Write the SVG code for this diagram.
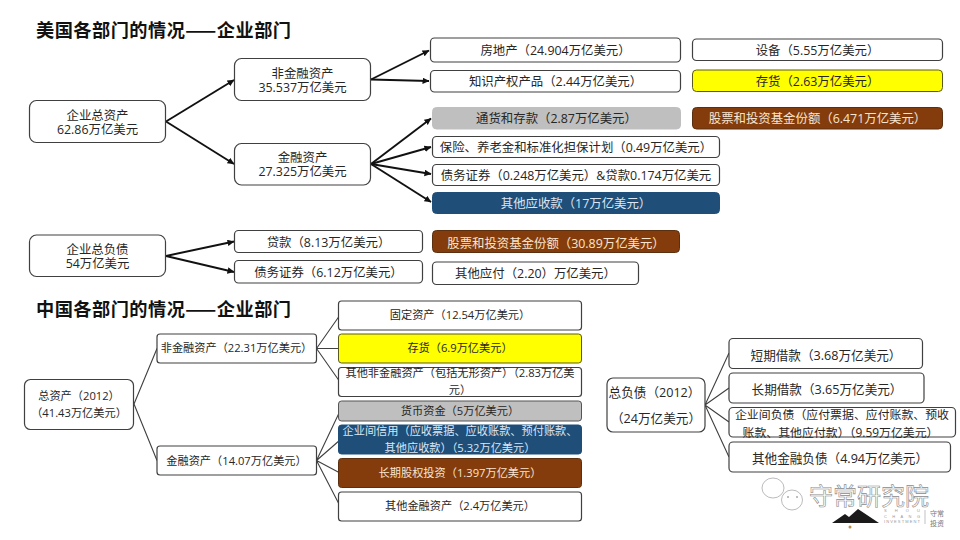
<svg xmlns="http://www.w3.org/2000/svg" width="960" height="540" viewBox="0 0 960 540">
<style>
text{font-family:"Open Sans","Noto Sans CJK SC",sans-serif;font-size:12.400px;fill:#262626;text-anchor:middle}
.t{font-family:"Noto Sans CJK SC",sans-serif;font-size:18.200px;font-weight:700;fill:#111;text-anchor:start}
.s{font-size:11.200px}
.m{font-size:12.600px}
.i{font-size:11.900px}
.b{fill:#fff;stroke:#404040;stroke-width:1.2}
.y{fill:#ff0;stroke:#5a5a20;stroke-width:1}
.g{fill:#bfbfbf;stroke:#bfbfbf}
.n{fill:#1f4e79;stroke:#1f4e79}
.r{fill:#843c0c;stroke:#5a3010}
.lb{fill:#dce6f2}
.lr{fill:#f8e5d0}
.a{fill:none;stroke:#111;stroke-width:1.900;marker-end:url(#ah)}
.l{fill:none;stroke:#404040;stroke-width:1.100}
.wm{font-family:"Noto Sans CJK SC",sans-serif;font-size:24px;fill:#fff;stroke:#8a8a8a;stroke-width:.6;text-anchor:start}
.wt{font-family:"Liberation Sans",sans-serif;font-size:4px;fill:#999;text-anchor:start}
.wc{font-family:"Noto Sans CJK SC",sans-serif;font-size:7px;fill:#777;text-anchor:start}
.wb{fill:#fff;stroke:#aaa;stroke-width:.8}
</style>
<defs>
<marker id="ah" markerWidth="7" markerHeight="7" refX="6.500" refY="3.250" orient="auto" markerUnits="userSpaceOnUse"><path d="M0 0L7 3.250L0 6.500Z" fill="#111"/></marker>
</defs>
<text class="t" x="36" y="37" textLength="255" lengthAdjust="spacing">美国各部门的情况——企业部门</text>
<text class="t" x="36" y="316" textLength="255" lengthAdjust="spacing">中国各部门的情况——企业部门</text>
<g id="connectors">
<path class="a" d="M166 121.500L234 80"/>
<path class="a" d="M166 121.500L234 164"/>
<path class="a" d="M371 79.500L429 50.500"/>
<path class="a" d="M371 79.500L429 81"/>
<path class="a" d="M371 164L431 118.500"/>
<path class="a" d="M371 164L431 147"/>
<path class="a" d="M371 164L431 174"/>
<path class="a" d="M371 164L431 202"/>
<path class="a" d="M166 256L234 241.500"/>
<path class="a" d="M166 256L234 272"/>
<path class="l" d="M134 404L157 348.500M134 404L157 460.500"/>
<path class="l" d="M316.500 348.500L340 315M316.500 348.500H340M316.500 348.500L340 382"/>
<path class="l" d="M316.500 460.500L340 411M316.500 460.500L340 440M316.500 460.500L340 473M316.500 460.500L340 506"/>
<path class="l" d="M705 405L729 353M705 405L729 388M705 405L729 422M705 405L729 457"/>
</g>
<g id="us-total-assets"><rect class="b" x="29.500" y="100.500" width="136" height="42" rx="7"/><text x="97.500" y="120">企业总资产</text><text x="97.500" y="134">62.86万亿美元</text></g>
<g id="us-nonfin"><rect class="b" x="234.500" y="58.500" width="136" height="42" rx="7"/><text x="302.500" y="78">非金融资产</text><text x="302.500" y="92">35.537万亿美元</text></g>
<g id="us-fin"><rect class="b" x="234.500" y="143.500" width="136" height="41.500" rx="7"/><text x="302.500" y="162">金融资产</text><text x="302.500" y="176">27.325万亿美元</text></g>
<g id="us-realestate"><rect class="b" x="430.500" y="38" width="250" height="24" rx="4"/><text x="555.500" y="55">房地产（24.904万亿美元）</text></g>
<g id="us-equip"><rect class="b" x="692.500" y="39" width="250" height="21.500" rx="4"/><text x="817.500" y="55">设备（5.55万亿美元）</text></g>
<g id="us-ip"><rect class="b" x="430.500" y="70.500" width="250" height="21.500" rx="4"/><text x="555.500" y="86">知识产权产品（2.44万亿美元）</text></g>
<g id="us-inventory"><rect class="y" x="692.500" y="70" width="250" height="21.500" rx="4"/><text x="817.500" y="86">存货（2.63万亿美元）</text></g>
<g id="us-cash"><rect class="g" x="432.500" y="107.500" width="248" height="21.500" rx="4"/><text x="556.500" y="123">通货和存款（2.87万亿美元）</text></g>
<g id="us-equity"><rect class="r" x="692.500" y="107.500" width="250" height="21.500" rx="4"/><text class="lr" x="817.500" y="123">股票和投资基金份额（6.471万亿美元）</text></g>
<g id="us-insurance"><rect class="b" x="432.500" y="136.500" width="287" height="21" rx="4"/><text x="576" y="152">保险、养老金和标准化担保计划（0.49万亿美元）</text></g>
<g id="us-debt"><rect class="b" x="432.500" y="164.500" width="287" height="21" rx="4"/><text x="576" y="180">债务证券（0.248万亿美元）&amp;贷款0.174万亿美元</text></g>
<g id="us-other-rec"><rect class="n" x="432.500" y="192.500" width="287" height="21" rx="4"/><text class="lb" x="576" y="208">其他应收款（17万亿美元）</text></g>
<g id="us-liab"><rect class="b" x="29.500" y="235" width="136" height="41.500" rx="7"/><text x="97.500" y="254">企业总负债</text><text x="97.500" y="268">54万亿美元</text></g>
<g id="us-loans"><rect class="b" x="234.500" y="230.500" width="188" height="22" rx="4"/><text x="328.500" y="247">贷款（8.13万亿美元）</text></g>
<g id="us-debt2"><rect class="b" x="234.500" y="260.500" width="188" height="22.500" rx="4"/><text x="328.500" y="277">债务证券（6.12万亿美元）</text></g>
<g id="us-equity2"><rect class="r" x="432.500" y="230.500" width="247" height="22" rx="4"/><text class="lr" x="556" y="248">股票和投资基金份额（30.89万亿美元）</text></g>
<g id="us-other-pay"><rect class="b" x="432.500" y="262" width="206" height="22.500" rx="4"/><text x="535.500" y="278">其他应付（2.20）万亿美元）</text></g>
<g id="cn-total"><rect class="b" x="24.500" y="379.500" width="109" height="50" rx="6"/><text class="s" x="79" y="400">总资产（2012）</text><text class="s" x="79" y="417">（41.43万亿美元）</text></g>
<g id="cn-nonfin"><rect class="b" x="157" y="334" width="159.500" height="29" rx="3"/><text class="s" x="236.500" y="352">非金融资产（22.31万亿美元）</text></g>
<g id="cn-fin"><rect class="b" x="157" y="446" width="159.500" height="29" rx="3"/><text class="s" x="236.500" y="465">金融资产（14.07万亿美元）</text></g>
<g id="cn-fixed"><rect class="b" x="338.500" y="301" width="243" height="29" rx="3"/><text class="s" x="460" y="319">固定资产（12.54万亿美元）</text></g>
<g id="cn-inventory"><rect class="y" x="338.500" y="334" width="243" height="29" rx="3"/><text class="s" x="460" y="352">存货（6.9万亿美元）</text></g>
<g id="cn-othernon"><rect class="b" x="338.500" y="367.500" width="243" height="29" rx="3"/><text class="s" x="460" y="377">其他非金融资产（包括无形资产）（2.83万亿美</text><text class="s" x="460" y="394">元）</text></g>
<g id="cn-cash"><rect class="g" style="stroke:#555" x="338.500" y="401" width="243" height="20" rx="3"/><text class="s" x="460" y="415">货币资金（5万亿美元）</text></g>
<g id="cn-credit"><rect class="n" x="338.500" y="425" width="243" height="29" rx="3"/><text class="s lb" x="460" y="435">企业间信用（应收票据、应收账款、预付账款、</text><text class="s lb" x="460" y="452">其他应收款）（5.32万亿美元）</text></g>
<g id="cn-equity"><rect class="r" x="338.500" y="458.500" width="243" height="29" rx="3"/><text class="s lr" x="460" y="477">长期股权投资（1.397万亿美元）</text></g>
<g id="cn-otherfin"><rect class="b" x="338.500" y="492" width="243" height="29" rx="3"/><text class="s" x="460" y="510">其他金融资产（2.4万亿美元）</text></g>
<g id="cn-liab"><rect class="b" x="607" y="378" width="98" height="54" rx="6"/><text class="m" x="654.500" y="397">总负债（2012）</text><text class="m" x="656" y="423">（24万亿美元）</text></g>
<g id="cn-short"><rect class="b" x="729" y="338.500" width="193.500" height="30" rx="4"/><text class="m" x="826" y="360">短期借款（3.68万亿美元）</text></g>
<g id="cn-long"><rect class="b" x="729" y="373" width="195" height="30" rx="4"/><text class="m" x="827" y="394">长期借款（3.65万亿美元）</text></g>
<g id="cn-inter"><rect class="b" x="729" y="407.500" width="226.500" height="29.500" rx="4"/><text class="i" x="842" y="419">企业间负债（应付票据、应付账款、预收</text><text class="i" x="840.500" y="437">账款、其他应付款）（9.59万亿美元）</text></g>
<g id="cn-otherliab"><rect class="b" x="729" y="442" width="221.500" height="30" rx="4"/><text class="m" x="840" y="463">其他金融负债（4.94万亿美元）</text></g>
<g id="watermark">
<ellipse class="wb" cx="773" cy="488" rx="11" ry="10"/>
<ellipse class="wb" cx="792" cy="500" rx="10.500" ry="10"/>
<circle cx="788" cy="497" r="1" fill="#aaa"/><circle cx="797" cy="497" r="1" fill="#aaa"/>
<text class="wm" x="809" y="505" textLength="120">守常研究院</text>
<path d="M832 523L845 514L849 517L858 509L879 523Z" fill="#1a1a1a"/>
<circle cx="850" cy="527" r="1.500" fill="#b8914a"/>
<text class="wt" x="884" y="512" textLength="36">SHOU</text><text class="wt" x="884" y="517.500" textLength="36">CHANG</text><text class="wt" x="884" y="523" textLength="36">INVESTMENT</text>
<path d="M925 510V524" stroke="#999" stroke-width=".6"/>
<text class="wc" x="930" y="516" textLength="14">守常</text><text class="wc" x="930" y="526" textLength="14">投资</text>
</g>
</svg>
